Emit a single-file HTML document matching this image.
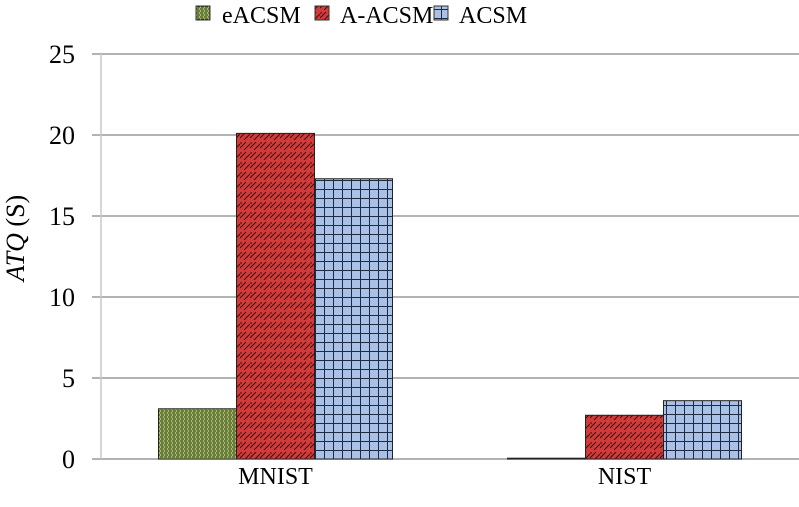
<!DOCTYPE html>
<html><head><meta charset="utf-8"><style>body{margin:0;background:#fff}svg{display:block;font-family:"Liberation Serif",serif}</style></head>
<body>
<svg id="c" width="799" height="507">
<defs>
<pattern id="pg" width="4" height="4" patternUnits="userSpaceOnUse"><rect width="4" height="4" fill="#a8bd6a"/><path d="M0 1h3M1 3h3" stroke="#2d3a12" stroke-width="1"/></pattern>
<pattern id="pr" width="10" height="10" patternUnits="userSpaceOnUse"><rect width="10" height="10" fill="#d33a3a"/><path d="M0 8l6-6M4 10l6-6M0 3h2" stroke="#3a0e0e" stroke-width="1"/></pattern>
<pattern id="pb" width="9" height="9" patternUnits="userSpaceOnUse"><rect width="9" height="9" fill="#a9c1e6"/><path d="M0 0.5h9M0.5 0v9" stroke="#1d2a40" stroke-width="1"/></pattern>
</defs>
<g id="grid"></g>
<line x1="101" x2="101" y1="54" y2="459" stroke="#c8c8c8" stroke-width="1.5"/>
<g id="bars"></g><g id="labels"></g>
<text x="24" y="238" transform="rotate(-90 24 238)" text-anchor="middle" font-size="26"><tspan font-style="italic">ATQ</tspan> (S)</text>
<g>
<rect x="196" y="6" width="14" height="14" fill="url(#pg)" stroke="#333"/>
<text x="222" y="23" font-size="24">eACSM</text>
<rect x="315" y="6" width="14" height="14" fill="url(#pr)" stroke="#333"/>
<text x="340" y="23" font-size="24">A-ACSM</text>
<rect x="434" y="6" width="14" height="14" fill="url(#pb)" stroke="#333"/>
<text x="459" y="23" font-size="24">ACSM</text>
</g>
</svg>
<script>
const categories=["MNIST","NIST"];
const eACSM=[3.1,0.05];
const aACSM=[20.1,2.7];
const ACSM=[17.3,3.6];
const yTicks=[0,5,10,15,20,25];
const NS="http://www.w3.org/2000/svg";
const y0=459,yTop=54,yMax=25,gx0=92,x0=101,x1=799,groupW=(x1-x0)/categories.length,barW=78;
const y=v=>y0-(v/yMax)*(y0-yTop);
function mk(t,a,p){const e=document.createElementNS(NS,t);for(const k in a)e.setAttribute(k,a[k]);p.appendChild(e);return e;}
const grid=document.getElementById('grid'),bars=document.getElementById('bars'),labels=document.getElementById('labels');
yTicks.forEach(t=>{
 const l=mk('line',{x1:gx0,x2:x1,y1:y(t),y2:y(t),stroke:'#9a9a9a','stroke-width':1.5},grid);
 
 
 const tx=mk('text',{x:75,y:y(t)+9,'text-anchor':'end','font-size':26},labels);
 tx.textContent=t;
 
 
});
const series=[[eACSM,'url(#pg)','eacsm'],[aACSM,'url(#pr)','a-acsm'],[ACSM,'url(#pb)','acsm']];
categories.forEach((c,i)=>{
 const cx=x0+groupW*(i+0.5);
 series.forEach(([vals,fill,nm],j)=>{
  const bx=cx-1.5*barW+j*barW;
  const r=mk('rect',{x:bx,y:y(vals[i]),width:barW,height:y0-y(vals[i]),fill:fill,stroke:'#222','stroke-width':1},bars);
  
  
 });
 const t=mk('text',{x:cx,y:484,'text-anchor':'middle','font-size':24},labels);
 t.textContent=c;
 
 
});
</script>
</body></html>
